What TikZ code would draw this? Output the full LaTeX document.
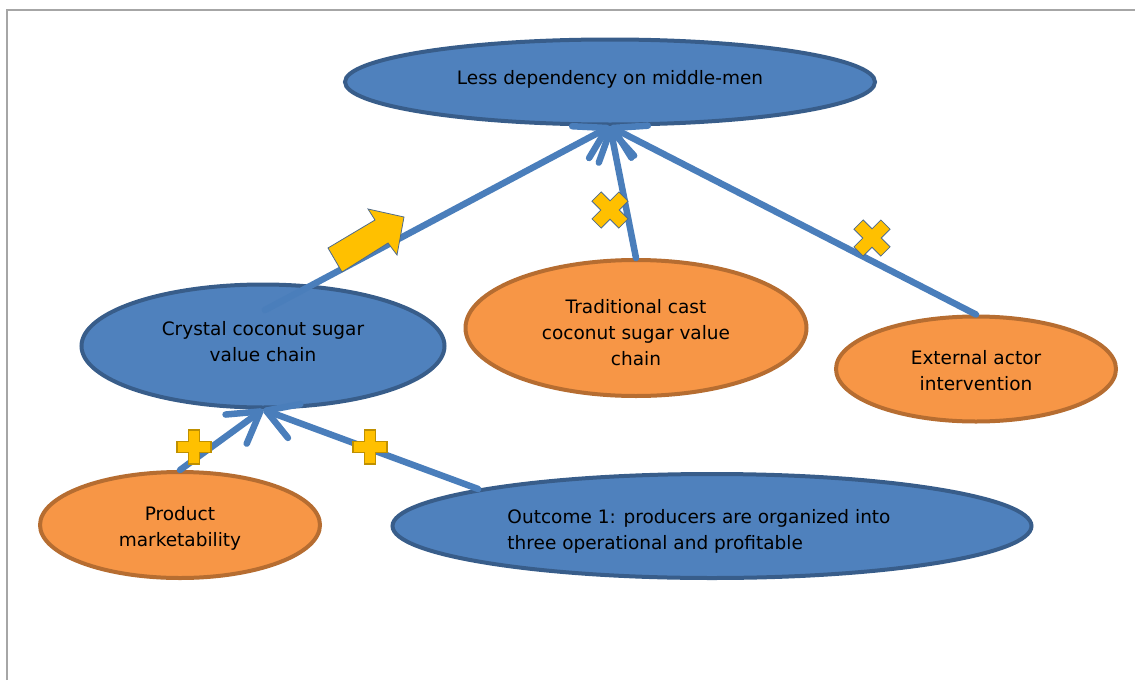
\documentclass[tikz,border=0pt]{standalone}
\usepackage{fontspec}
\setmainfont{DejaVu Sans}
\usetikzlibrary{shapes.geometric,arrows.meta}
\definecolor{blfill}{HTML}{4F81BD}
\definecolor{bldraw}{HTML}{385D8A}
\definecolor{orfill}{HTML}{F79646}
\definecolor{ordraw}{HTML}{B66D31}
\definecolor{conn}{HTML}{4A7EBB}
\definecolor{gold}{HTML}{FFC000}
\definecolor{golddark}{HTML}{BF9000}
\definecolor{markedge}{HTML}{4E6A8A}
\definecolor{framegray}{HTML}{A6A6A6}
\begin{document}
\begin{tikzpicture}[x=1pt,y=-1pt,
  txt/.style={font=\fontsize{18.5}{26}\selectfont, inner sep=0pt},
  blell/.style={ellipse, fill=blfill, draw=bldraw, line width=4pt, inner sep=0pt},
  orell/.style={ellipse, fill=orfill, draw=ordraw, line width=4pt, inner sep=0pt},
  link/.style={draw=conn, line width=6.5pt, line cap=round, -{Straight Barb[length=30pt,width=36pt,round]}},
  plusmark/.pic={\draw[fill=gold, draw=golddark, line width=1.5pt]
     (-5.5,-17) -- (5.5,-17) -- (5.5,-5.5) -- (17,-5.5) -- (17,5.5) -- (5.5,5.5) -- (5.5,17)
     -- (-5.5,17) -- (-5.5,5.5) -- (-17,5.5) -- (-17,-5.5) -- (-5.5,-5.5) -- cycle;},
  crossmark/.pic={\draw[fill=gold, draw=markedge, line width=0.8pt, rotate=45]
     (-6.5,-19) -- (6.5,-19) -- (6.5,-6.5) -- (19,-6.5) -- (19,6.5) -- (6.5,6.5) -- (6.5,19)
     -- (-6.5,19) -- (-6.5,6.5) -- (-19,6.5) -- (-19,-6.5) -- (-6.5,-6.5) -- cycle;}
]
\useasboundingbox (0,0) rectangle (1135,680);
\draw[framegray, line width=1.5pt] (7,680) -- (7,10) -- (1135,10);

\node[blell, minimum width=530pt, minimum height=85pt,
  label={[txt, align=center, yshift=3pt]center:{Less dependency on middle-men}}] (top) at (610,82) {};
\node[blell, minimum width=363pt, minimum height=123pt,
  label={[txt, align=center, yshift=4pt]center:{Crystal coconut sugar\\value chain}}] (crystal) at (263,346) {};
\node[orell, minimum width=341pt, minimum height=136pt,
  label={[txt, align=center, yshift=-5pt]center:{Traditional cast\\coconut sugar value\\chain}}] (trad) at (636,328) {};
\node[orell, minimum width=280pt, minimum height=105pt,
  label={[txt, align=center, yshift=-2pt]center:{External actor\\intervention}}] (ext) at (976,369) {};
\node[orell, minimum width=280pt, minimum height=106pt,
  label={[txt, align=center, yshift=-3pt]center:{Product\\marketability}}] (prod) at (180,525) {};
\node[blell, minimum width=639pt, minimum height=104pt,
  label={[txt, align=left, xshift=-13pt, yshift=-5pt]center:{Outcome 1: producers are organized into\\three operational and profitable}}] (outc) at (712,526) {};

\coordinate (cstart) at (265,310);
\draw[link] (cstart) -- (top.south);
\draw[link] (trad.north) -- (top.south);
\draw[link] (ext.north) -- (top.south);
\draw[link] (prod.north) -- (crystal.south);
\draw[link] (outc.171) -- (crystal.south);

\draw[fill=gold, draw=markedge, line width=0.8pt]
  (328,248) -- (375,220) -- (368,209) -- (404,217) -- (397,255) -- (388,243) -- (342,272) -- cycle;
\pic at (610,210) {crossmark};
\pic at (872,238) {crossmark};
\pic at (194,447) {plusmark};
\pic at (370,447) {plusmark};
\end{tikzpicture}
\end{document}
